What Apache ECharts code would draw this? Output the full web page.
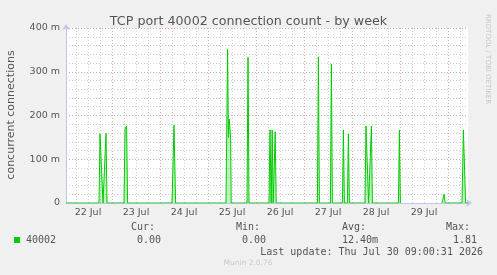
<!DOCTYPE html>
<html>
<head>
<meta charset="utf-8">
<script src="https://cdn.jsdelivr.net/npm/echarts@6/dist/echarts.min.js"></script>
<style>
html,body{margin:0;padding:0;background:#f0f0f0;}
#c{width:497px;height:275px;}
</style>
</head>
<body>
<div id="c"></div>
<script>
// Hours since 22 Jul 00:00
var hours = [1, 17.5, 18, 19, 19.5, 20.5, 21, 21.5, 30, 30.5, 31.3, 31.8, 54, 55, 55.8,
  81, 81.8, 82.2, 82.6, 83.1, 83.3, 83.6, 91.5, 92, 92.5,
  102.5, 103, 103.6, 104.1, 104.6, 105.6, 106.1, 126.7, 127.2, 127.7,
  133.2, 133.7, 134.2, 139.2, 139.7, 140.2, 141.7, 142.2, 142.7,
  150.5, 151, 151.9, 152.3, 153.2, 153.7, 154.2, 167.2, 167.7, 168.2,
  178, 189, 190, 190.6, 199, 199.7, 200.3, 200.8, 202];
// Connection count in milli-units (m)
var values = [0, 0, 158, 158, 0, 0, 159, 0, 0, 169, 176, 0, 0, 178, 0,
  0, 351, 150, 192, 192, 150, 0, 0, 333, 0,
  0, 167, 0, 167, 0, 163, 0, 0, 334, 0,
  0, 318, 0, 0, 167, 0, 0, 158, 0,
  0, 176, 176, 0, 0, 176, 0, 0, 167, 0,
  null, 0, 20, 0, 0, 167, 167, 0, 0];

var dayLabels = ['22 Jul', '23 Jul', '24 Jul', '25 Jul', '26 Jul', '27 Jul', '28 Jul', '29 Jul'];
var dayLabelHours = [12, 36, 60, 84, 108, 132, 156, 180];
var gridHours = [];
for (var h = 6; h <= 198; h += 6) gridHours.push(h);
var yTickLabels = ['0', '100 m', '200 m', '300 m', '400 m'];
var yTickValues = [0, 100, 200, 300, 400];

var seriesName = '40002';
var statNames = ['Cur:', 'Min:', 'Avg:', 'Max:'];
var statValues = ['0.00', '0.00', '12.40m', '1.81'];
var lastUpdate = 'Last update: Thu Jul 30 09:00:31 2026';

var data = hours.map(function (h, i) { return [h, values[i]]; });

var mono = '"DejaVu Sans Mono", monospace';
var sans = '"DejaVu Sans", sans-serif';
var minorC = '#cfcfcf', majorC = '#eba3a3', axisC = '#c4c4f4';

var chart = echarts.init(document.getElementById('c'), null, {renderer: 'canvas'});
chart.setOption({
  animation: false,
  backgroundColor: '#f0f0f0',
  title: {
    text: 'TCP port 40002 connection count - by week',
    left: 'center', top: 10,
    textStyle: {fontFamily: sans, fontSize: 12.7, fontWeight: 'normal', color: '#555'}
  },
  grid: {left: 66, right: 29, top: 28, bottom: 72, show: true, backgroundColor: '#ffffff', borderWidth: 0},
  xAxis: {
    type: 'value', min: 1, max: 202,
    axisLine: {show: true, lineStyle: {color: axisC, width: 1}, symbol: ['none', 'arrow'], symbolSize: [6, 6], symbolOffset: [0, 4]},
    axisTick: {show: false, customValues: gridHours},
    axisLabel: {
      customValues: dayLabelHours, margin: 5,
      fontFamily: sans, fontSize: 9.5, color: '#555',
      formatter: function (v) { var i = dayLabelHours.indexOf(v); return i >= 0 ? dayLabels[i] : ''; }
    },
    splitLine: {show: true, lineStyle: {color: [minorC, minorC, minorC, majorC], type: [1, 2], width: 1}}
  },
  yAxis: {
    type: 'value', min: 0, max: 400, interval: 20,
    axisLine: {show: true, lineStyle: {color: axisC, width: 1}, symbol: ['none', 'arrow'], symbolSize: [6, 6], symbolOffset: [0, 4]},
    axisTick: {show: false},
    axisLabel: {
      margin: 6, fontFamily: sans, fontSize: 9.5, color: '#555',
      formatter: function (v) { var i = yTickValues.indexOf(v); return i >= 0 ? yTickLabels[i] : ''; }
    },
    splitLine: {show: true, lineStyle: {color: [majorC, minorC, minorC, minorC, minorC], type: [1, 2], width: 1}}
  },
  series: [{
    type: 'line', name: seriesName, data: data,
    showSymbol: false, connectNulls: false, smooth: false, sampling: null,
    lineStyle: {color: '#00cc00', width: 1},
    areaStyle: {color: 'rgba(0,204,0,0.35)'},
    z: 5
  }],
  graphic: [
    {type: 'text', x: 11, y: 115, rotation: Math.PI / 2,
      style: {text: 'concurrent connections', font: '11px ' + sans, fill: '#555', align: 'center', verticalAlign: 'middle'}},
    {type: 'text', x: 488, y: 14, rotation: -Math.PI / 2,
      style: {text: 'RRDTOOL / TOBI OETIKER', font: '7px ' + sans, fill: '#c8c8c8', align: 'left', verticalAlign: 'middle'}},
    {type: 'rect', shape: {x: 14, y: 237, width: 6, height: 6}, style: {fill: '#00cc00'}},
    {type: 'text', x: 26, y: 240, style: {text: seriesName, font: '10px ' + mono, fill: '#555', verticalAlign: 'middle'}},
    {type: 'text', x: 131, y: 227, style: {text: statNames[0], font: '10px ' + mono, fill: '#555', verticalAlign: 'middle'}},
    {type: 'text', x: 236, y: 227, style: {text: statNames[1], font: '10px ' + mono, fill: '#555', verticalAlign: 'middle'}},
    {type: 'text', x: 342, y: 227, style: {text: statNames[2], font: '10px ' + mono, fill: '#555', verticalAlign: 'middle'}},
    {type: 'text', x: 446, y: 227, style: {text: statNames[3], font: '10px ' + mono, fill: '#555', verticalAlign: 'middle'}},
    {type: 'text', x: 137, y: 240, style: {text: statValues[0], font: '10px ' + mono, fill: '#555', verticalAlign: 'middle'}},
    {type: 'text', x: 242, y: 240, style: {text: statValues[1], font: '10px ' + mono, fill: '#555', verticalAlign: 'middle'}},
    {type: 'text', x: 342, y: 240, style: {text: statValues[2], font: '10px ' + mono, fill: '#555', verticalAlign: 'middle'}},
    {type: 'text', x: 453, y: 240, style: {text: statValues[3], font: '10px ' + mono, fill: '#555', verticalAlign: 'middle'}},
    {type: 'text', x: 483, y: 252, style: {text: lastUpdate, font: '10px ' + mono, fill: '#555', align: 'right', verticalAlign: 'middle'}},
    {type: 'text', x: 248, y: 263.5, style: {text: 'Munin 2.0.76', font: '7.5px ' + sans, fill: '#c8c8c8', align: 'center', verticalAlign: 'middle'}}
  ]
});
</script>
</body>
</html>
